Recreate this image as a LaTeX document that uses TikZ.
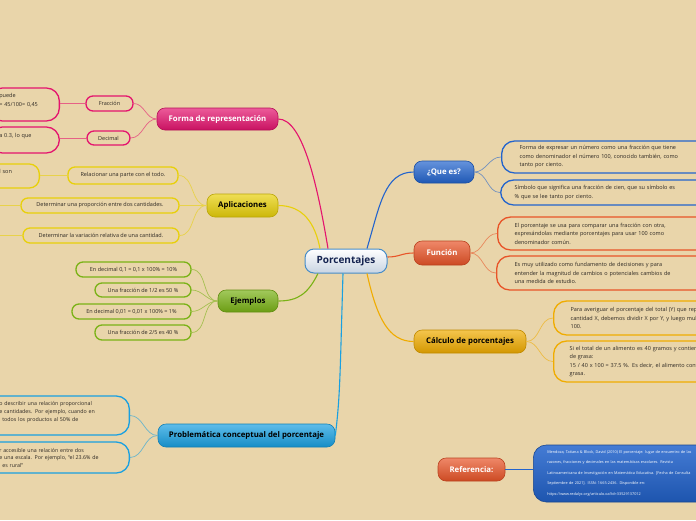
\documentclass[tikz,border=0pt]{standalone}
\usepackage{fontspec}
\setmainfont{Open Sans}
\definecolor{bgsand}{RGB}{233,213,170}
\definecolor{rootline}{RGB}{70,140,200}
\definecolor{roottext}{RGB}{20,35,80}
\definecolor{pinkc}{RGB}{228,20,110}
\definecolor{yellowc}{RGB}{232,208,10}
\definecolor{greenc}{RGB}{122,178,22}
\definecolor{skyc}{RGB}{25,160,225}
\definecolor{bluec}{RGB}{35,100,205}
\definecolor{redc}{RGB}{232,84,40}
\definecolor{amberc}{RGB}{240,172,0}
\definecolor{inkc}{RGB}{45,40,35}

\tikzset{
  root/.style={rounded corners=9pt, draw=rootline, line width=1pt, top color=white,
    bottom color={rgb,255:red,200;green,212;blue,226}, text=roottext,
    font=\fontsize{10}{12}\selectfont\bfseries, minimum width=82pt, minimum height=24pt},
  topic/.style={rounded corners=8pt, inner xsep=2pt, inner ysep=1pt, draw=#1!80!black,
    line width=0.6pt, top color=#1!70!white, bottom color=#1!88!black, text=white,
    font=\fontsize{7.8}{9}\selectfont\bfseries},
  leaf/.style={draw=#1, line width=1.3pt, rounded corners=7pt, inner sep=1pt, text=inkc,
    font=\fontsize{5.5}{6.5}\selectfont},
  note/.style={draw=#1, line width=1.3pt, rounded corners=13pt, text=inkc, align=left,
    inner ysep=1pt, font=\fontsize{5.5}{8.5}\selectfont},
  link/.style={draw=#1, line width=1.1pt},
  twig/.style={draw=#1!60!bgsand, line width=0.7pt}
}

\begin{document}
\begin{tikzpicture}[x=1pt, y=-1pt]
  \useasboundingbox (0,0) rectangle (696,520);
  \clip (0,0) rectangle (696,520);
  \fill[bgsand] (0,0) rectangle (696,520);

  % central topic
  \node[root] (root) at (346,261) {Porcentajes};

  % main topics
  \node[topic=bluec, minimum width=60pt, minimum height=22pt] (que) at (444,172) {¿Que es?};
  \node[topic=redc, minimum width=56pt, minimum height=24pt] (func) at (442,253) {Función};
  \node[topic=amberc, text=black, minimum width=112pt, minimum height=23pt] (calc) at (470,341.5) {Cálculo de porcentajes};
  \node[topic=redc, minimum width=67pt, minimum height=23pt] (ref) at (471.5,469.5) {Referencia:};
  \node[topic=pinkc, minimum width=121pt, minimum height=22pt] (forma) at (217.5,119) {Forma de representación};
  \node[topic=yellowc, text=black, minimum width=71pt, minimum height=23pt] (apl) at (242.5,205.5) {Aplicaciones};
  \node[topic=greenc, text=black, minimum width=60pt, minimum height=22pt] (ejem) at (248,301) {Ejemplos};
  \node[topic=skyc, text=black, minimum width=177pt, minimum height=23pt] (prob) at (246.5,435.5) {Problemática conceptual del porcentaje};

  % right leaves
  \node[note=bluec, anchor=west, text width=200pt, inner xsep=18pt, minimum height=32pt] (q1) at (501,157)
    {Forma de expresar un número como una fracción que tiene\\ como denominador el número 100, conocido también, como\\ tanto por ciento.};
  \node[note=bluec, anchor=west, text width=200pt, inner xsep=14pt, minimum height=25pt] (q2) at (500,192.5)
    {Símbolo que significa una fracción de cien, que su símbolo es\\ \% que se lee tanto por ciento.};
  \node[note=redc, anchor=west, text width=200pt, inner xsep=17pt, minimum height=33pt] (f1) at (497,233.5)
    {El porcentaje se usa para comparar una fracción con otra,\\ expresándolas mediante porcentajes para usar 100 como\\ denominador común.};
  \node[note=redc, anchor=west, text width=200pt, inner xsep=18pt, minimum height=34pt] (f2) at (496,273)
    {Es muy utilizado como fundamento de decisiones y para\\ entender la magnitud de cambios o potenciales cambios de\\ una medida de estudio.};
  \node[note=amberc, anchor=west, text width=200pt, inner xsep=17pt, minimum height=34pt] (c1) at (553,318)
    {Para averiguar el porcentaje del total (Y) que representa una\\ cantidad X, debemos dividir X por Y, y luego multiplicar por\\ 100.};
  \node[note=amberc, anchor=west, text width=210pt, inner xsep=16pt, minimum height=41pt] (c2) at (553,361.5)
    {Si el total de un alimento es 40 gramos y contiene 15 gramos\\ de grasa:\\ 15 / 40 x 100 = 37.5 \%. Es decir, el alimento contiene 37.5 \% de\\ grasa.};
  \node[note=bluec, anchor=west, text width=175pt, inner xsep=14pt, minimum height=57pt, draw=bluec!70!black,
    line width=0.6pt, top color=bluec!85!white, bottom color=bluec!85!black, text=white,
    font=\fontsize{3.8}{10.5}\selectfont] (refl) at (533,473.5)
    {Mendoza, Tatiana \& Block, David (2010) El porcentaje: lugar de encuentro de las\\ razones, fracciones y decimales en las matemáticas escolares. Revista\\ Latinoamericana de Investigación en Matemática Educativa. [Fecha de Consulta\\ Septiembre de 2021]. ISSN: 1665-2436. Disponible en:\\ https://www.redalyc.org/articulo.oa?id=33529137012};

  % left leaves
  \node[leaf=pinkc, minimum width=47pt, minimum height=15pt] (frac) at (109.5,103.5) {Fracción};
  \node[leaf=pinkc, minimum width=43pt, minimum height=14pt] (dec) at (108.5,138) {Decimal};
  \node[note=pinkc, anchor=east, text width=50pt, inner xsep=10pt, minimum height=33pt,
    font=\fontsize{5.5}{9.5}\selectfont] (fracl) at (60,104.5) {puede\\= 45/100= 0,45\\ \mbox{}};
  \node[note=pinkc, anchor=east, text width=50pt, inner xsep=10pt, minimum height=26pt] (decl) at (60,140)
    {a 0.3, lo que\\ \mbox{}};
  \node[leaf=yellowc, minimum width=110pt, minimum height=17pt] (rel) at (123,175.5) {Relacionar una parte con el todo.};
  \node[leaf=yellowc, minimum width=158pt, minimum height=15pt] (prop) at (100,205.5) {Determinar una proporción entre dos cantidades.};
  \node[leaf=yellowc, minimum width=156pt, minimum height=15pt] (var) at (101,235.5) {Determinar la variación relativa de una cantidad.};
  \node[note=yellowc, anchor=east, text width=30pt, inner xsep=10pt, minimum height=24pt, rounded corners=10pt] (rell) at (40,176)
    {l son\\ \mbox{}};
  \coordinate (propx) at (-5,205.5);
  \coordinate (varx) at (-5,235.5);
  \node[leaf=greenc, minimum width=115pt, minimum height=15pt] (e1) at (133.5,269.5) {En decimal 0,1 = 0,1 x 100\% = 10\%};
  \node[leaf=greenc, minimum width=96pt, minimum height=14pt] (e2) at (143,290) {Una fracción de 1/2 es 50 \%};
  \node[leaf=greenc, minimum width=119pt, minimum height=15pt] (e3) at (131.5,311.5) {En decimal 0,01 = 0,01 x 100\% = 1\%};
  \node[leaf=greenc, minimum width=96pt, minimum height=15pt] (e4) at (143,332.5) {Una fracción de 2/5 es 40 \%};
  \node[note=skyc, anchor=east, text width=112pt, inner xsep=18pt, minimum height=39pt,
    font=\fontsize{5.3}{8}\selectfont] (p1) at (130,415.5)
    {o describir una relación proporcional\\ e cantidades. Por ejemplo, cuando en\\ \hspace*{3pt}todos los productos al 50\% de\\ \mbox{}};
  \node[note=skyc, anchor=east, text width=112pt, inner xsep=18pt, minimum height=31pt,
    font=\fontsize{5.3}{7.5}\selectfont] (p2) at (130,457.5)
    {r accesible una relación entre dos\\ e una escala. Por ejemplo, “el 23.6\% de\\ \hspace*{3pt}es rural”};

  % main branches
  \draw[link=bluec] ([xshift=21pt]root.north) .. controls +(13,-44) and +(-29,0) .. (que.west);
  \draw[link=redc] ([yshift=4pt]root.east) .. controls +(12,0) and +(-12,0) .. (func.west);
  \draw[link=amberc] ([xshift=21pt]root.south) .. controls +(10,45) and +(-25,0) .. (calc.west);
  \draw[link=pinkc] ([xshift=-18pt]root.north) .. controls +(-10,-60) and +(25,0) .. (forma.east);
  \draw[link=yellowc] ([xshift=-26pt]root.north) .. controls +(-5,-25) and +(25,0) .. (apl.east);
  \draw[link=greenc] ([xshift=-28pt]root.south) .. controls +(-10,20) and +(20,0) .. (ejem.east);
  \draw[link=skyc] ([xshift=-3pt]root.south) .. controls +(-3,100) and +(5,-40) .. (prob.east);
  \draw[link=bluec, line width=0.8pt] (ref.east) -- (ref.east -| refl.west);

  % twigs
  \foreach \t in {q1,q2} \draw[twig=bluec] (que.east) to[out=0,in=180] (\t.west);
  \foreach \t in {f1,f2} \draw[twig=redc] (func.east) to[out=0,in=180] (\t.west);
  \foreach \t in {c1,c2} \draw[twig=amberc] (calc.east) to[out=0,in=180] (\t.west);
  \foreach \t in {frac,dec} \draw[twig=pinkc] (forma.west) to[out=180,in=0] (\t.east);
  \draw[twig=pinkc] (frac.west) -- (fracl.east |- frac.west);
  \draw[twig=pinkc] (dec.west) -- (decl.east |- dec.west);
  \foreach \t in {rel,prop,var} \draw[twig=yellowc] (apl.west) to[out=180,in=0] (\t.east);
  \draw[twig=yellowc] (rel.west) -- (rell.east |- rel.west);
  \draw[twig=yellowc] (prop.west) -- (propx);
  \draw[twig=yellowc] (var.west) -- (varx);
  \foreach \t in {e1,e2,e3,e4} \draw[twig=greenc] (ejem.west) to[out=180,in=0] (\t.east);
  \foreach \t in {p1,p2} \draw[twig=skyc] (prob.west) to[out=180,in=0] (\t.east);
\end{tikzpicture}
\end{document}
